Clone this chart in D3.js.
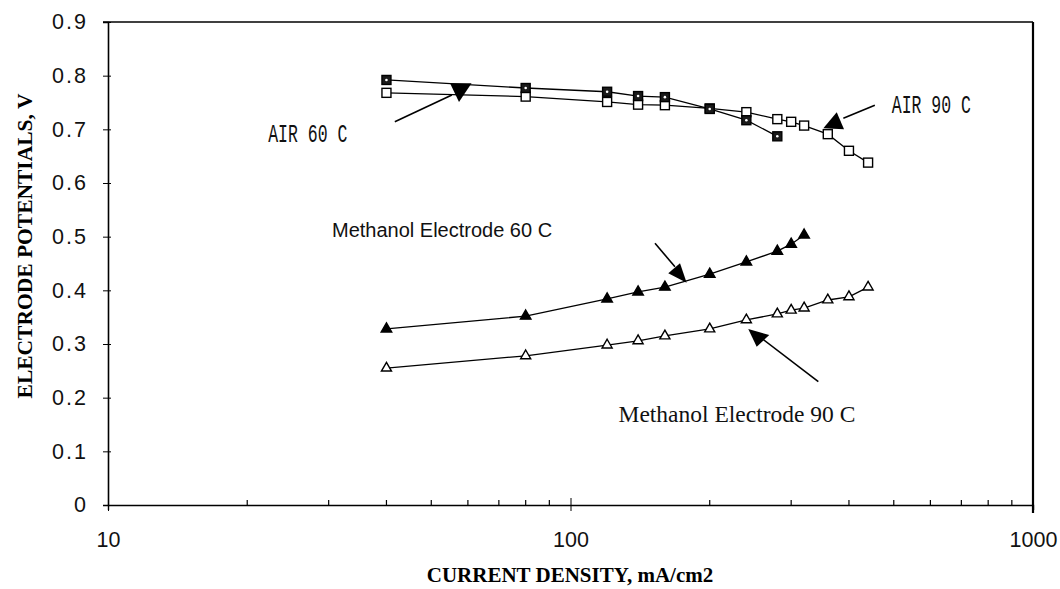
<!DOCTYPE html>
<html>
<head>
<meta charset="utf-8">
<script src="https://cdn.jsdelivr.net/npm/d3@7"></script>
<style>
  body { margin: 0; background: #fff; }
  svg { display: block; }
</style>
</head>
<body>
<svg id="chart"></svg>
<script>
// current density (mA/cm2) and electrode potentials (V)
var airCurrent60  = [40, 80, 120, 140, 160, 200, 240, 280];
var air60         = [0.792, 0.777, 0.770, 0.762, 0.760, 0.738, 0.717, 0.687];
var airCurrent90  = [40, 80, 120, 140, 160, 200, 240, 280, 300, 320, 360, 400, 440];
var air90         = [0.768, 0.761, 0.751, 0.746, 0.745, 0.739, 0.732, 0.719, 0.714, 0.707, 0.691, 0.660, 0.638];
var methCurrent60 = [40, 80, 120, 140, 160, 200, 240, 280, 300, 320];
var meth60        = [0.328, 0.352, 0.384, 0.397, 0.406, 0.430, 0.453, 0.473, 0.486, 0.503];
var methCurrent90 = [40, 80, 120, 140, 160, 200, 240, 280, 300, 320, 360, 400, 440];
var meth90        = [0.255, 0.278, 0.298, 0.306, 0.315, 0.328, 0.345, 0.356, 0.363, 0.367, 0.382, 0.388, 0.406];

var yTicks      = [0, 0.1, 0.2, 0.3, 0.4, 0.5, 0.6, 0.7, 0.8, 0.9];
var xMajorTicks = [10, 100, 1000];
var xMinorTicks = [20, 30, 40, 50, 60, 70, 80, 90, 200, 300, 400, 500, 600, 700, 800, 900];

// annotation labels: [text, x, y of baseline start]
var labels = [
  { text: "AIR 60 C", x: 22.2, y: 0.676, kind: "mono" },
  { text: "AIR 90 C", x: 495, y: 0.730, kind: "mono" },
  { text: "Methanol Electrode 60 C", x: 30.5, y: 0.499, kind: "sans" },
  { text: "Methanol Electrode 90 C", x: 127, y: 0.155, kind: "serif" }
];
// arrows: tail, shaft end, arrowhead triangle (data units)
var arrows = [
  { from: [41.7, 0.714], to: [55.4, 0.764], head: [[54.9, 0.786], [61.1, 0.786], [57.4, 0.751]] },
  { from: [455, 0.745], to: [389, 0.7205], head: [[376.4, 0.7317], [352.1, 0.7019], [390.3, 0.700]] },
  { from: [152.3, 0.4876], to: [168.2, 0.444], head: [[172.5, 0.4503], [162.7, 0.4317], [178.3, 0.4142]] },
  { from: [343.4, 0.2297], to: [259, 0.3106], head: [[242.3, 0.3279], [269, 0.3168], [252.7, 0.295]] }
];

var width = 1060, height = 589;
var svg = d3.select("#chart").attr("width", width).attr("height", height);

var x = d3.scaleLog().domain([10, 1000]).range([108, 1033]);
var y = d3.scaleLinear().domain([0, 0.9]).range([505, 22]);

// frame: top and right lines
svg.append("line")
   .attr("x1", 103).attr("x2", x(1000))
   .attr("y1", y(0.9)).attr("y2", y(0.9))
   .attr("stroke", "#000").attr("stroke-width", 1.6);
svg.append("line")
   .attr("x1", x(1000)).attr("x2", x(1000))
   .attr("y1", y(0.9)).attr("y2", y(0) + 8)
   .attr("stroke", "#000").attr("stroke-width", 2.2);

// y axis
var yAxis = svg.append("g")
   .attr("transform", "translate(" + x(10) + ",0)")
   .call(d3.axisLeft(y).tickValues(yTicks).tickSize(5).tickPadding(15)
          .tickFormat(function (d) { return d === 0 ? "0" : d3.format(".1f")(d); }));
yAxis.select(".domain").attr("stroke-width", 1.6);
yAxis.selectAll(".tick line").attr("x2", -5).attr("x1", 3);
yAxis.selectAll("text")
   .attr("font-family", "Liberation Sans, Arial, sans-serif")
   .attr("font-size", 21.5)
   .attr("letter-spacing", 2)
   .attr("fill", "#111");

// x axis
var xAxis = svg.append("g")
   .attr("transform", "translate(0," + y(0) + ")")
   .call(d3.axisBottom(x).tickValues(xMajorTicks).tickSize(5).tickPadding(22)
          .tickFormat(d3.format("d")));
xAxis.select(".domain").attr("stroke-width", 1.4);
xAxis.selectAll(".tick line").attr("y1", -7).attr("y2", 6);
xAxis.selectAll("text")
   .attr("font-family", "Liberation Sans, Arial, sans-serif")
   .attr("font-size", 21.5)
   .attr("fill", "#111");

svg.append("g")
   .selectAll("line")
   .data(xMinorTicks)
   .enter().append("line")
     .attr("x1", function (d) { return x(d); })
     .attr("x2", function (d) { return x(d); })
     .attr("y1", y(0))
     .attr("y2", y(0) - 5)
     .attr("stroke", "#000").attr("stroke-width", 1.2);

// axis titles
svg.append("text")
   .attr("x", 570).attr("y", 582)
   .attr("text-anchor", "middle")
   .attr("font-family", "Liberation Serif, Times New Roman, serif")
   .attr("font-weight", "bold")
   .attr("font-size", 21)
   .text("CURRENT DENSITY, mA/cm2");

svg.append("text")
   .attr("transform", "translate(32,246) rotate(-90)")
   .attr("text-anchor", "middle")
   .attr("font-family", "Liberation Serif, Times New Roman, serif")
   .attr("font-weight", "bold")
   .attr("font-size", 21.5)
   .text("ELECTRODE POTENTIALS, V");

// series
function pairs(xs, ys) {
  return xs.map(function (d, i) { return [d, ys[i]]; });
}
var line = d3.line()
   .x(function (d) { return x(d[0]); })
   .y(function (d) { return y(d[1]); });

var series = [
  { points: pairs(airCurrent90, air90), shape: "square", filled: false },
  { points: pairs(airCurrent60, air60), shape: "square", filled: true },
  { points: pairs(methCurrent90, meth90), shape: "triangle", filled: false },
  { points: pairs(methCurrent60, meth60), shape: "triangle", filled: true }
];

series.forEach(function (s) {
  var g = svg.append("g");
  g.append("path")
   .datum(s.points)
   .attr("d", line)
   .attr("fill", "none")
   .attr("stroke", "#000")
   .attr("stroke-width", 1.3);

  if (s.shape === "square") {
    g.selectAll("rect")
     .data(s.points)
     .enter().append("rect")
       .attr("x", function (d) { return x(d[0]) - 4.5; })
       .attr("y", function (d) { return y(d[1]) - 4.5; })
       .attr("width", 9).attr("height", 9)
       .attr("fill", s.filled ? "#1a1a1a" : "#fff")
       .attr("stroke", "#000").attr("stroke-width", 1.4);
    if (s.filled) {
      g.selectAll("circle")
       .data(s.points)
       .enter().append("circle")
         .attr("cx", function (d) { return x(d[0]); })
         .attr("cy", function (d) { return y(d[1]); })
         .attr("r", 1.3)
         .attr("fill", "#fff");
    }
  } else {
    var tri = d3.symbol().type(d3.symbolTriangle).size(s.filled ? 48 : 44);
    g.selectAll("path.mark")
     .data(s.points)
     .enter().append("path")
       .attr("class", "mark")
       .attr("transform", function (d) { return "translate(" + x(d[0]) + "," + y(d[1]) + ")"; })
       .attr("d", tri)
       .attr("fill", s.filled ? "#000" : "#fff")
       .attr("stroke", "#000").attr("stroke-width", 1.4);
  }
});

// arrows
arrows.forEach(function (a) {
  svg.append("line")
     .attr("x1", x(a.from[0])).attr("y1", y(a.from[1]))
     .attr("x2", x(a.to[0])).attr("y2", y(a.to[1]))
     .attr("stroke", "#000").attr("stroke-width", 1.6);
  svg.append("polygon")
     .attr("points", a.head.map(function (p) { return x(p[0]) + "," + y(p[1]); }).join(" "))
     .attr("fill", "#000");
});

// labels
labels.forEach(function (l) {
  var t = svg.append("text").text(l.text).attr("fill", "#111");
  if (l.kind === "mono") {
    t.attr("transform", "translate(" + x(l.x) + "," + y(l.y) + ") scale(1,1.55)")
     .attr("font-family", "Liberation Mono, Courier New, monospace")
     .attr("font-size", 16.5);
  } else if (l.kind === "sans") {
    t.attr("x", x(l.x)).attr("y", y(l.y))
     .attr("font-family", "Liberation Sans, Arial, sans-serif")
     .attr("font-size", 20);
  } else {
    t.attr("x", x(l.x)).attr("y", y(l.y))
     .attr("font-family", "Liberation Serif, Times New Roman, serif")
     .attr("font-size", 23.5);
  }
});
</script>
</body>
</html>
